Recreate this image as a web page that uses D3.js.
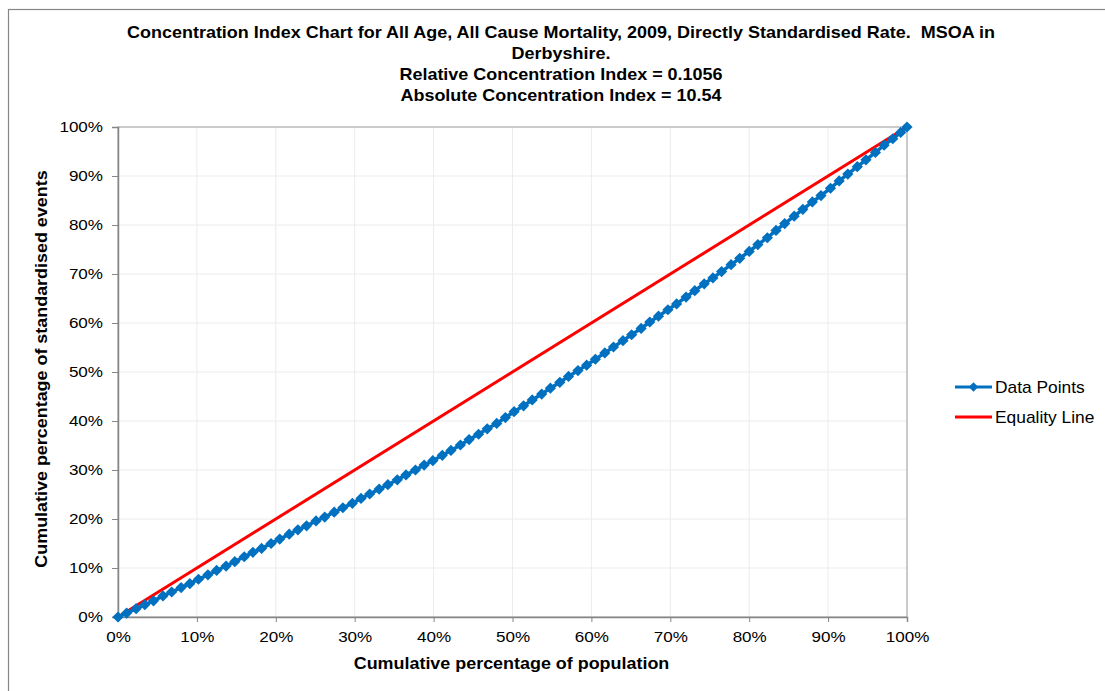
<!DOCTYPE html>
<html>
<head>
<meta charset="utf-8">
<script src="https://cdn.jsdelivr.net/npm/d3@7"></script>
<style>
  html, body { margin: 0; padding: 0; background: #fff; }
  svg text { font-family: "Liberation Sans", Arial, sans-serif; fill: #000; white-space: pre; }
</style>
</head>
<body>
<svg id="chart" width="1105" height="691"></svg>
<script>
// title lines
const titleLines = [
  "Concentration Index Chart for All Age, All Cause Mortality, 2009, Directly Standardised Rate.  MSOA in",
  "Derbyshire.",
  "Relative Concentration Index = 0.1056",
  "Absolute Concentration Index = 10.54"
];

// cumulative % of population (x) and of standardised events (y)
const popPct = [0, 1.1, 2.3, 3.4, 4.5, 5.7, 6.8, 8.0, 9.1,
  10.2, 11.4, 12.5, 13.7, 14.8, 16.0, 17.1, 18.2, 19.4,
  20.5, 21.7, 22.8, 23.9, 25.1, 26.2, 27.4, 28.5, 29.7,
  30.8, 31.9, 33.1, 34.2, 35.4, 36.5, 37.7, 38.8, 39.9,
  41.1, 42.2, 43.4, 44.5, 45.7, 46.8, 48.0, 49.1,
  50.2, 51.4, 52.5, 53.7, 54.8, 56.0, 57.1, 58.3, 59.4,
  60.5, 61.7, 62.8, 64.0, 65.1, 66.3, 67.4, 68.5, 69.7,
  70.8, 72.0, 73.1, 74.3, 75.4, 76.5, 77.7, 78.8, 80.0,
  81.1, 82.3, 83.4, 84.5, 85.7, 86.8, 88.0, 89.1,
  90.3, 91.4, 92.5, 93.7, 94.8, 96.0, 97.1, 98.2, 99.2, 100];
const eventPct = [0, 0.8, 1.7, 2.5, 3.3, 4.3, 5.1, 6.0, 6.8,
  7.7, 8.6, 9.5, 10.4, 11.3, 12.3, 13.2, 14.0, 15.0,
  15.9, 16.9, 17.8, 18.6, 19.6, 20.4, 21.4, 22.3, 23.2,
  24.2, 25.1, 26.1, 27.0, 28.0, 29.0, 30.0, 31.0, 31.9,
  33.0, 34.0, 35.1, 36.2, 37.3, 38.4, 39.5, 40.7,
  41.9, 43.1, 44.3, 45.5, 46.7, 47.9, 49.1, 50.3, 51.4,
  52.6, 53.9, 55.1, 56.4, 57.6, 58.9, 60.2, 61.4, 62.7,
  63.9, 65.3, 66.6, 68.0, 69.2, 70.5, 71.9, 73.2, 74.6,
  76.0, 77.4, 78.9, 80.3, 81.8, 83.2, 84.7, 86.0,
  87.5, 89.0, 90.4, 91.9, 93.3, 94.8, 96.3, 97.6, 98.9, 100];
const equality = [0, 100];
const tickVals = d3.range(0, 101, 10);
const seriesNames = ["Data Points", "Equality Line"];

const svg = d3.select("#chart");
const m = { left: 118, right: 907, top: 127, bottom: 617 };

// outer chart border
svg.append("rect").attr("x", 8.5).attr("y", 9.5).attr("width", 1110).attr("height", 700)
  .attr("fill", "none").attr("stroke", "#868686").attr("stroke-width", 1.2);

const x = d3.scaleLinear().domain([0, 100]).range([m.left, m.right]);
const y = d3.scaleLinear().domain([0, 100]).range([m.bottom, m.top]);

// gridlines
svg.append("g").selectAll("line.gx").data(tickVals).join("line")
  .attr("x1", d => x(d)).attr("x2", d => x(d)).attr("y1", m.top).attr("y2", m.bottom)
  .attr("stroke", "#ececec").attr("stroke-width", 1);
svg.append("g").selectAll("line.gy").data(tickVals).join("line")
  .attr("x1", m.left).attr("x2", m.right).attr("y1", d => y(d)).attr("y2", d => y(d))
  .attr("stroke", "#ececec").attr("stroke-width", 1);

// plot border
svg.append("rect").attr("x", m.left).attr("y", m.top)
  .attr("width", m.right - m.left).attr("height", m.bottom - m.top)
  .attr("fill", "none").attr("stroke", "#a0a0a0").attr("stroke-width", 1);

// axes
const fmt = d => d + "%";
const gx = svg.append("g").attr("transform", `translate(0,${m.bottom})`)
  .call(d3.axisBottom(x).tickValues(tickVals).tickFormat(fmt).tickSizeOuter(0).tickSize(5).tickPadding(9));
const gy = svg.append("g").attr("transform", `translate(${m.left},0)`)
  .call(d3.axisLeft(y).tickValues(tickVals).tickFormat(fmt).tickSizeOuter(0).tickSize(6).tickPadding(8));
[gx, gy].forEach(g => {
  g.select(".domain").attr("stroke", "#868686").attr("stroke-width", 1.5);
  g.selectAll(".tick line").attr("stroke", "#868686");
  g.selectAll(".tick text").attr("font-size", 15.5).attr("font-family", "Liberation Sans, Arial, sans-serif").attr("fill", "#000");
});
gx.selectAll(".tick text").attr("transform", `scale(1.1,1)`);
gy.selectAll(".tick text").attr("x", -15 / 1.1).attr("transform", `scale(1.1,1)`);

// equality line
svg.append("line")
  .attr("x1", x(equality[0])).attr("y1", y(equality[0]))
  .attr("x2", x(equality[1])).attr("y2", y(equality[1]))
  .attr("stroke", "#ff0000").attr("stroke-width", 3);

// data points
const pts = popPct.map((p, i) => [p, eventPct[i]]);
svg.append("path").datum(pts)
  .attr("d", d3.line().x(d => x(d[0])).y(d => y(d[1])))
  .attr("fill", "none").attr("stroke", "#0070c0").attr("stroke-width", 3.5);
const diamond = d3.symbol().type(d3.symbolDiamond2).size(80);
svg.append("g").selectAll("path").data(pts).join("path")
  .attr("d", diamond)
  .attr("transform", d => `translate(${x(d[0])},${y(d[1])})`)
  .attr("fill", "#0070c0");

// title
svg.append("g").selectAll("text").data(titleLines).join("text")
  .attr("transform", (d, i) => `translate(561,${38 + i * 21}) scale(1.09,1)`)
  .attr("text-anchor", "middle").attr("font-size", 16.5).attr("font-weight", "bold")
  .text(d => d);

// axis titles
svg.append("text").attr("transform", `translate(${x(50) - 1},669) scale(1.08,1)`)
  .attr("text-anchor", "middle").attr("font-size", 16.6).attr("font-weight", "bold")
  .text("Cumulative percentage of population");
svg.append("text").attr("transform", `translate(47,${(m.top + m.bottom) / 2 - 3}) rotate(-90) scale(1.08,1)`)
  .attr("text-anchor", "middle").attr("font-size", 16.6).attr("font-weight", "bold")
  .text("Cumulative percentage of standardised events");

// legend
const legendColors = ["#0070c0", "#ff0000"];
const lg = svg.append("g").selectAll("g").data(seriesNames).join("g")
  .attr("transform", (d, i) => `translate(955,${387 + i * 30})`);
lg.append("line").attr("x1", 0).attr("x2", 37)
  .attr("stroke", (d, i) => legendColors[i]).attr("stroke-width", 3);
lg.filter((d, i) => i === 0).append("path").attr("d", d3.symbol().type(d3.symbolDiamond2).size(56))
  .attr("transform", "translate(18.5,0)").attr("fill", legendColors[0]);
lg.append("text").attr("transform", `translate(40,0) scale(1.1,1)`).attr("dy", "0.35em").attr("font-size", 15.8)
  .text(d => d);
</script>
</body>
</html>
